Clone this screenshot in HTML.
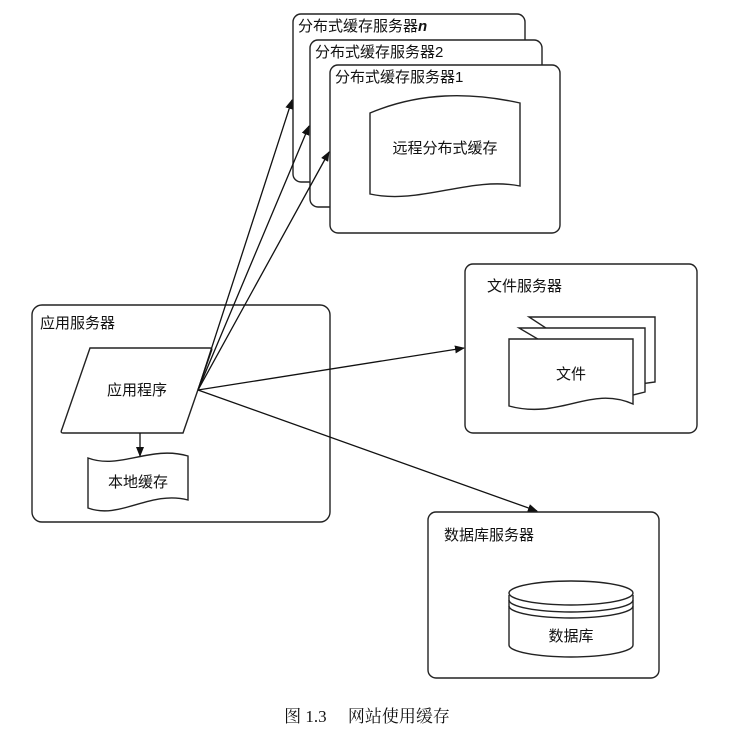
<!DOCTYPE html>
<html><head><meta charset="utf-8"><style>
html,body{margin:0;padding:0;background:#fff;}
svg text{font-family:"Liberation Sans","Noto Sans CJK SC",sans-serif;fill:#111;}
</style></head><body>
<svg width="735" height="740" viewBox="0 0 735 740" xmlns="http://www.w3.org/2000/svg">
<defs>
<marker id="a" markerWidth="10" markerHeight="8" refX="9" refY="4" orient="auto" markerUnits="userSpaceOnUse">
<path d="M0,0 L10,4 L0,8 z" fill="#111"/></marker>
</defs>
<g fill="#fff" stroke="#222" stroke-width="1.4">
<rect x="293" y="14" width="232" height="168" rx="8"/>
<rect x="310" y="40" width="232" height="167" rx="8"/>
<rect x="330" y="65" width="230" height="168" rx="8"/>
<path d="M370,113 C420,92 470,92 520,103 L520,186 C470,176 420,205 370,194 Z"/>
<rect x="32" y="305" width="298" height="217" rx="10"/>
<path d="M90,348 L210,348 Q213,348 211,352 L183,433 L63,433 Q60,433 62,429 Z"/>
<path d="M88,458 C120,470 150,445 188,456 L188,500 C150,490 120,520 88,508 Z"/>
<rect x="465" y="264" width="232" height="169" rx="8"/>
<path d="M529,317 L655,317 L655,382 L633,385 Z"/>
<path d="M519,328 L645,328 L645,392 L633,395 Z"/>
<path d="M509,339 L633,339 L633,404 C590,385 560,420 509,406 Z"/>
<rect x="428" y="512" width="231" height="166" rx="8"/>
<path d="M509,595 L509,645 A62,12 0 0 0 633,645 L633,595"/>
<ellipse cx="571" cy="593" rx="62" ry="12"/>
<path d="M509,600 A62,12 0 0 0 633,600" fill="none"/>
<path d="M509,606 A62,12 0 0 0 633,606" fill="none"/>
</g>
<g stroke="#111" stroke-width="1.3" fill="none" marker-end="url(#a)">
<line x1="198" y1="390" x2="292" y2="100"/>
<line x1="198" y1="390" x2="309" y2="126"/>
<line x1="198" y1="390" x2="329" y2="152"/>
<line x1="198" y1="390" x2="464" y2="348"/>
<line x1="198" y1="390" x2="537" y2="511"/>
<line x1="140" y1="433" x2="140" y2="456"/>
</g>
<g font-size="15">
<text x="298" y="31">分布式缓存服务器<tspan font-style="italic" font-weight="bold">n</tspan></text>
<text x="315" y="57">分布式缓存服务器2</text>
<text x="335" y="82">分布式缓存服务器1</text>
<text x="445" y="153" text-anchor="middle">远程分布式缓存</text>
<text x="40" y="328">应用服务器</text>
<text x="137" y="395" text-anchor="middle">应用程序</text>
<text x="138" y="487" text-anchor="middle">本地缓存</text>
<text x="487" y="291">文件服务器</text>
<text x="571" y="379" text-anchor="middle">文件</text>
<text x="444" y="540">数据库服务器</text>
<text x="571" y="641" text-anchor="middle">数据库</text>
</g>
<text x="367" y="722" font-size="17" text-anchor="middle" style="font-family:'Liberation Serif','Noto Serif CJK SC',serif">图 1.3　 网站使用缓存</text>
</svg>
</body></html>
